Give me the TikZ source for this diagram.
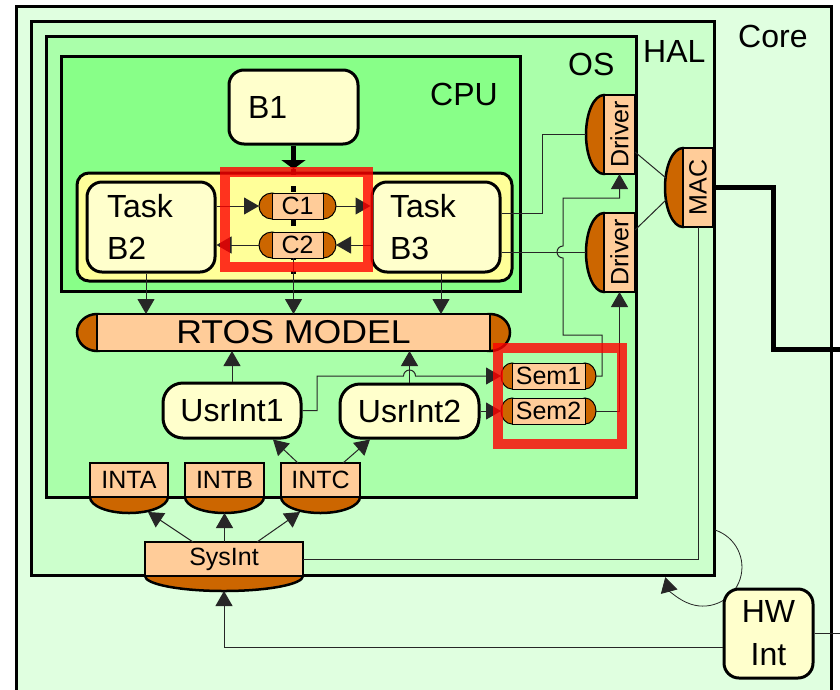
\documentclass[tikz,border=0pt]{standalone}
\usepackage{fontspec}
\setmainfont{Liberation Sans}
\newfontfamily\rtosfont[FakeStretch=1.08]{Liberation Sans}
\usetikzlibrary{arrows.meta,shapes.geometric,calc}
\definecolor{corec}{HTML}{E0FFE0}
\definecolor{halc}{HTML}{CCFFCC}
\definecolor{osc}{HTML}{AAFFAA}
\definecolor{cpuc}{HTML}{88FF88}
\definecolor{contc}{HTML}{FFFF99}
\definecolor{taskc}{HTML}{FFFFCC}
\definecolor{capc}{HTML}{CC6600}
\definecolor{bodyc}{HTML}{FFCC99}
\newcommand\fbig{\fontsize{32}{42}\selectfont}
\newcommand\frtos{\rtosfont\fontsize{33}{40}\selectfont}
\newcommand\fmed{\fontsize{25}{30}\selectfont}
\begin{document}
\begin{tikzpicture}[x=1pt,y=-1pt,
  boxframe/.style={draw=black, line width=3pt},
  lbl/.style={font=\fbig, inner sep=0pt, anchor=base west},
  taskbox/.style={draw=black, line width=3pt, fill=taskc, rounded corners=15pt, inner sep=0pt, font=\fbig},
  capshape/.style={ellipse, draw=black, fill=capc, inner sep=0pt, outer sep=0pt},
  pillbody/.style={rectangle, draw=black, fill=bodyc, inner sep=0pt, outer sep=0pt, font=\fmed},
  thinb/.style={line width=1pt},
  thickb/.style={line width=2.5pt},
  conn/.style={draw=black!85, line width=1pt},
  arr/.style={conn, -{Triangle[length=15pt 0 0,width=17pt 0 0]}},
  redbox/.style={draw=red, line width=10pt, opacity=0.8},
]
\useasboundingbox (0,0) rectangle (840,689);
\clip (0,0) rectangle (840,689);
\fill[white] (0,0) rectangle (840,689);

% nested frames
\draw[boxframe, fill=corec] (16,6) rectangle (831,720);
\draw[boxframe, fill=halc] (31,21) rectangle (714,575);
\draw[boxframe, fill=osc] (46,36) rectangle (636,497);
\draw[boxframe, fill=cpuc] (61,56) rectangle (520,291);
\node[lbl] (corelbl) at (738,47) {Core};
\node[lbl] (hallbl) at (643,62) {HAL};
\node[lbl] (oslbl) at (568,75) {OS};
\node[lbl] (cpulbl) at (430,105) {CPU};

% task container
\node[draw=black, line width=3pt, fill=contc, rounded corners=12pt, inner sep=0pt,
      minimum width=435pt, minimum height=108pt] (tasks) at (294.5,227) {};

\node[taskbox, minimum width=129pt, minimum height=74pt, text width=91pt, inner xsep=19pt, align=left] (b1) at (293.5,107) {B1};
\node[taskbox, minimum width=128pt, minimum height=90pt, text width=88pt, inner xsep=20pt, align=left] (b2) at (151,227) {Task\\B2};
\node[taskbox, minimum width=128pt, minimum height=90pt, text width=92pt, inner xsep=18pt, align=left] (b3) at (436,227) {Task\\B3};

% B1 thick arrow and dashed channel
\coordinate (cpin) at (293.5,169);
\draw[line width=5pt, -{Triangle[length=9pt 0 0,width=24pt 0 0]}] (b1.south) -- (cpin);
\draw[line width=5pt, dash pattern=on 6pt off 11pt] (cpin) -- (293.5,274);

% channels C1, C2
\node[capshape, thinb, minimum width=26pt, minimum height=26pt] (c1l) at (272,206) {};
\node[capshape, thinb, minimum width=26pt, minimum height=26pt] (c1r) at (323,206) {};
\node[pillbody, thinb, minimum width=51pt, minimum height=26pt] (c1) at (297.5,206) {C1};
\node[capshape, thinb, minimum width=26pt, minimum height=26pt] (c2l) at (272,245) {};
\node[capshape, thinb, minimum width=26pt, minimum height=26pt] (c2r) at (323,245) {};
\node[pillbody, thinb, minimum width=51pt, minimum height=26pt] (c2) at (297.5,245) {C2};

% RTOS model
\node[capshape, thickb, minimum width=40pt, minimum height=37pt] (rtosl) at (97,332.5) {};
\node[capshape, thickb, minimum width=40pt, minimum height=37pt] (rtosr) at (490,332.5) {};
\node[pillbody, thickb, font=\frtos, minimum width=393pt, minimum height=37pt] (rtos) at (293.5,332.5) {RTOS MODEL};

% user interrupts
\node[taskbox, rounded corners=20pt, minimum width=138pt, minimum height=55pt] (u1) at (232,410.5) {UsrInt1};
\node[taskbox, rounded corners=20pt, minimum width=139pt, minimum height=54pt] (u2) at (409.5,411) {UsrInt2};

% semaphores
\node[capshape, thinb, minimum width=22pt, minimum height=26pt] (s1l) at (512,376) {};
\node[capshape, thinb, minimum width=22pt, minimum height=26pt] (s1r) at (585,376) {};
\node[pillbody, thinb, minimum width=73pt, minimum height=26pt] (s1) at (548.5,376) {Sem1};
\node[capshape, thinb, minimum width=22pt, minimum height=26pt] (s2l) at (512,411) {};
\node[capshape, thinb, minimum width=22pt, minimum height=26pt] (s2r) at (585,411) {};
\node[pillbody, thinb, minimum width=73pt, minimum height=26pt] (s2) at (548.5,411) {Sem2};

% drivers and MAC
\node[capshape, thickb, minimum width=36pt, minimum height=79pt] (d1c) at (604,134.5) {};
\node[pillbody, thickb, minimum width=31pt, minimum height=79pt] (d1) at (619.5,134.5) {\rotatebox{90}{Driver}};
\node[capshape, thickb, minimum width=36pt, minimum height=79pt] (d2c) at (604,252.5) {};
\node[pillbody, thickb, minimum width=31pt, minimum height=79pt] (d2) at (619.5,252.5) {\rotatebox{90}{Driver}};
\node[capshape, thickb, minimum width=36pt, minimum height=79pt] (macc) at (683,187.5) {};
\node[pillbody, thickb, minimum width=30pt, minimum height=79pt] (mac) at (698,187.5) {\rotatebox{90}{MAC}};

% interrupt controllers
\node[capshape, thickb, minimum width=78pt, minimum height=32pt] (intac) at (129,497) {};
\node[pillbody, thickb, minimum width=78pt, minimum height=34pt] (inta) at (129,480) {INTA};
\node[capshape, thickb, minimum width=79pt, minimum height=32pt] (intbc) at (224.5,497) {};
\node[pillbody, thickb, minimum width=79pt, minimum height=34pt] (intb) at (224.5,480) {INTB};
\node[capshape, thickb, minimum width=79pt, minimum height=32pt] (intcc) at (320.5,497) {};
\node[pillbody, thickb, minimum width=79pt, minimum height=34pt] (intc) at (320.5,480) {INTC};

\node[capshape, thickb, minimum width=158pt, minimum height=30pt] (sysc) at (224,576) {};
\node[pillbody, thickb, minimum width=158pt, minimum height=34pt] (sys) at (224,559) {SysInt};

% connectors: tasks and channels
\draw[arr] (b2.east |- c1l.west) -- (c1l.west);
\draw[arr] (c1r.east) -- (b3.west |- c1r.east);
\draw[arr] (b3.west |- c2r.east) -- (c2r.east);
\draw[arr] (c2l.west) -- (b2.east |- c2l.west);

\coordinate (x1) at ($(b2.south)+(-5,0)$);
\coordinate (x3) at ($(b3.south)+(5,0)$);
\draw[arr] (x1) -- (x1 |- rtos.north);
\draw[arr] (b1.south |- c2.south) -- (b1.south |- rtos.north);
\draw[arr] (x3) -- (x3 |- rtos.north);

% tasks to drivers
\coordinate (j1) at (542,213);
\draw[conn] (b3.east |- j1) -- (j1) |- (d1c.west);
\draw[conn] (b3.east |- d2c.west) -- (d2c.west);
\draw[conn] ($(d1.east)+(0,17.5)$) -- ($(macc.west)+(1,-9.5)$);
\draw[conn] ($(d2.east)+(0,-22.5)$) -- ($(macc.west)+(1,12.5)$);

% MAC out
\coordinate (m1) at (773,349);
\coordinate (macout) at (845,349);
\draw[line width=5pt] (mac.east) -| (m1) -- (macout);
\draw[conn] (mac.south) |- (sys.east);

% semaphores to drivers
\draw[arr] (s1r.east) -- (602,376) -- (602,335) -- (563,335) -- (563,258)
  arc[start angle=90, end angle=270, radius=6] -- (563,198) -| (d1.south);
\draw[arr] (s2r.east) -| (d2.south);

% user interrupts
\draw[arr] (u1.east) -- (317,410.5) -- (317,376) -- (403.5,376)
  arc[start angle=180, end angle=360, radius=6] -- (s1l.west);
\draw[arr] (u2.east) -- (s2l.west);
\draw[arr] (u1.north) -- (u1.north |- rtos.south);
\draw[arr] (u2.north) -- (u2.north |- rtos.south);

\draw[arr] ($(intc.north)+(-22.5,0)$) -- ($(u1.south)+(41,0)$);
\draw[arr] ($(intc.north)+(22.5,0)$) -- ($(u2.south)+(-39.5,0)$);

\draw[arr] ($(sys.north)+(-31,0)$) -- ($(intac.center)+(19,15)$);
\draw[arr] (sys.north -| intbc.south) -- (intbc.south);
\draw[arr] ($(sys.north)+(33,0)$) -- ($(intcc.center)+(-20.5,15)$);

% hardware interrupt
\draw[arr, line width=0.8pt] (715,530) arc[start angle=-72, end angle=165, radius=39];
\node[taskbox, minimum width=89pt, minimum height=89pt, align=center, font=\fontsize{32}{43}\selectfont] (hw) at (768.5,633.5) {HW\\Int};
\draw[arr] ($(hw.west)+(0,13.5)$) -| (sysc.south);
\coordinate (hwout) at (845,633.5);
\draw[conn] (hw.east) -- (hwout);

% highlight boxes
\draw[redbox] (225,172) rectangle (368,267);
\draw[redbox] (497.5,348) rectangle (622,443.5);
\end{tikzpicture}
\end{document}
